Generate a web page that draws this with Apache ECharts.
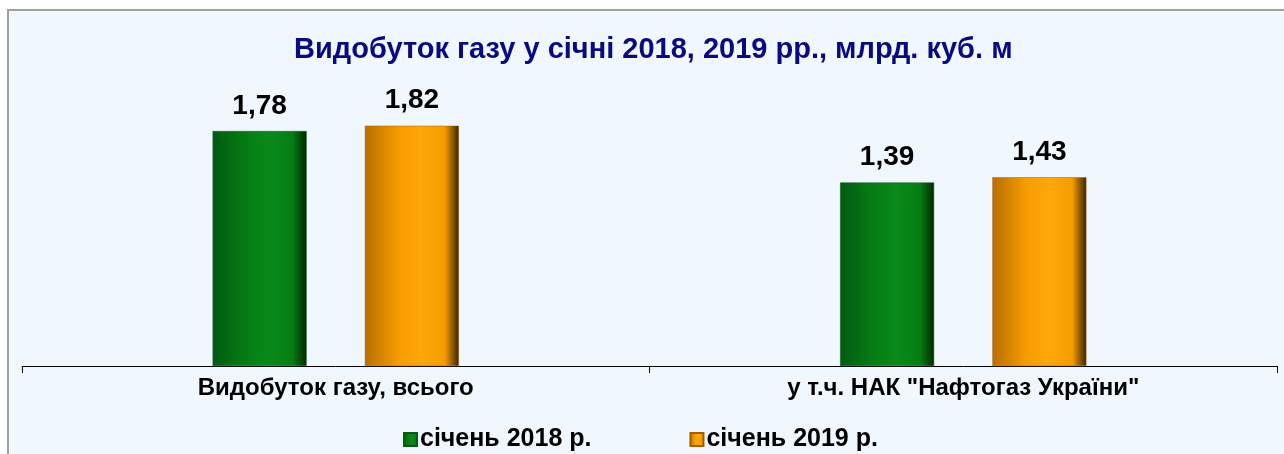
<!DOCTYPE html>
<html>
<head>
<meta charset="utf-8">
<script src="https://cdn.jsdelivr.net/npm/echarts@6/dist/echarts.min.js"></script>
<style>
  html, body { margin: 0; padding: 0; background: #fff; }
  #chart { width: 1284px; height: 454px; }
</style>
</head>
<body>
<div id="chart"></div>
<script>
// дані
const categories = ['Видобуток газу, всього', 'у т.ч. НАК "Нафтогаз України"'];
const seriesNames = ['січень 2018 р.', 'січень 2019 р.'];
const values2018 = [1.78, 1.39];
const values2019 = [1.82, 1.43];

const fmt = (v) => v.toFixed(2).replace('.', ',');

// горизонтальний градієнт для "об'ємних" стовпців
const barGrad = (dark, mid, light, edge) => new echarts.graphic.LinearGradient(0, 0, 1, 0, [
    { offset: 0, color: dark },
    { offset: 0.35, color: mid },
    { offset: 0.6, color: light },
    { offset: 0.85, color: mid },
    { offset: 1, color: edge }
]);
const greenFill = barGrad('#005a10', '#067d14', '#0a8a1a', '#002800');
const orangeFill = barGrad('#b86e00', '#f59b00', '#ffa80a', '#3d2200');

const font = 'Liberation Sans, Arial, sans-serif';

const chart = echarts.init(document.getElementById('chart'));
const option = {
    animation: false,
    graphic: [{
        type: 'rect',
        z: -10,
        shape: { x: 8, y: 10, width: 1300, height: 470 },
        style: { fill: '#f0f7ff', stroke: '#a0a0a0', lineWidth: 2 }
    }],
    title: {
        text: 'Видобуток газу у січні 2018, 2019 рр., млрд. куб. м',
        left: 289,
        top: 30,
        textStyle: {
            color: '#0a0a80',
            fontFamily: font,
            fontWeight: 'bold',
            fontSize: 29
        }
    },
    legend: {
        left: 398,
        top: 422,
        itemWidth: 13,
        itemHeight: 13,
        itemGap: 98,
        icon: 'rect',
        textStyle: {
            color: '#000',
            fontFamily: font,
            fontWeight: 'bold',
            fontSize: 25,
            padding: [0, 0, 0, -2]
        },
        data: seriesNames
    },
    grid: { left: 22, right: 7, top: 102, bottom: 88 },
    xAxis: {
        type: 'category',
        data: categories,
        axisLine: { lineStyle: { color: '#000', width: 1 } },
        axisTick: { show: true, length: 7, lineStyle: { color: '#000' } },
        axisLabel: {
            color: '#000',
            fontFamily: font,
            fontWeight: 'bold',
            fontSize: 24,
            margin: 10
        }
    },
    yAxis: {
        type: 'value',
        min: 0,
        max: 2,
        show: false,
        splitLine: { show: false }
    },
    series: [
        {
            name: seriesNames[0],
            type: 'bar',
            data: values2018,
            barWidth: 94,
            barGap: '62%',
            itemStyle: { color: greenFill, borderColor: '#0a5a14', borderWidth: 0.5 },
            label: {
                show: true,
                position: 'top',
                distance: 11,
                formatter: (p) => fmt(p.value),
                color: '#000',
                fontFamily: font,
                fontWeight: 'bold',
                fontSize: 28
            }
        },
        {
            name: seriesNames[1],
            type: 'bar',
            data: values2019,
            barWidth: 94,
            itemStyle: { color: orangeFill, borderColor: '#a06000', borderWidth: 0.5 },
            label: {
                show: true,
                position: 'top',
                distance: 11,
                formatter: (p) => fmt(p.value),
                color: '#000',
                fontFamily: font,
                fontWeight: 'bold',
                fontSize: 28
            }
        }
    ]
};
chart.setOption(option);
</script>
</body>
</html>
